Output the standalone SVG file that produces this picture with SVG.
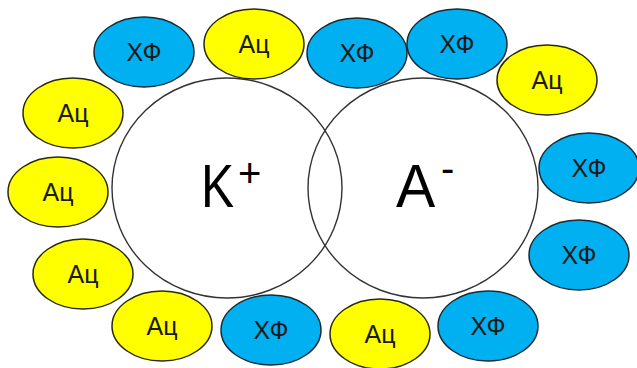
<svg xmlns="http://www.w3.org/2000/svg" width="637" height="368" viewBox="0 0 637 368">
<style>
.big{fill:none;stroke:#333;stroke-width:1.4}
.b{fill:#00B0F0;stroke:#1a2a33;stroke-width:1.5}
.y{fill:#FFFF00;stroke:#2a2a10;stroke-width:1.5}
.t{font-family:"Liberation Sans",Arial,sans-serif;font-size:25px;fill:#1a1a1a;text-anchor:middle}
.ion{font-family:"Liberation Sans",Arial,sans-serif;fill:#000}
</style>
<rect width="637" height="368" fill="#fff"/>
<g id="cation">
<ellipse class="big" cx="227" cy="188" rx="115" ry="110"/>
<text class="ion" transform="translate(201,207) scale(0.8,1)" font-size="62">K</text>
<text class="ion" x="238" y="187" font-size="40">+</text>
</g>
<g id="anion">
<ellipse class="big" cx="423" cy="188" rx="115" ry="110"/>
<text class="ion" transform="translate(396,207) scale(0.95,1)" font-size="62">A</text>
<text class="ion" x="441" y="182" font-size="40">-</text>
</g>
<g id="n1"><ellipse class="b" cx="144" cy="52" rx="50" ry="35"/><text class="t" x="144" y="61">ХФ</text></g>
<g id="n2"><ellipse class="y" cx="254" cy="44" rx="50" ry="35"/><text class="t" x="254" y="53">Ац</text></g>
<g id="n3"><ellipse class="b" cx="357" cy="53" rx="50" ry="35"/><text class="t" x="357" y="62">ХФ</text></g>
<g id="n4"><ellipse class="b" cx="457" cy="44" rx="50" ry="35"/><text class="t" x="457" y="53">ХФ</text></g>
<g id="n5"><ellipse class="y" cx="547" cy="80" rx="50" ry="35"/><text class="t" x="547" y="89">Ац</text></g>
<g id="n6"><ellipse class="b" cx="589" cy="168" rx="50" ry="35"/><text class="t" x="589" y="177">ХФ</text></g>
<g id="n7"><ellipse class="b" cx="579" cy="255" rx="50" ry="35"/><text class="t" x="579" y="264">ХФ</text></g>
<g id="n8"><ellipse class="b" cx="488" cy="326" rx="50" ry="35"/><text class="t" x="488" y="335">ХФ</text></g>
<g id="n9"><ellipse class="y" cx="380" cy="334" rx="50" ry="35"/><text class="t" x="380" y="343">Ац</text></g>
<g id="n10"><ellipse class="b" cx="271" cy="330" rx="50" ry="35"/><text class="t" x="271" y="339">ХФ</text></g>
<g id="n11"><ellipse class="y" cx="162" cy="326" rx="50" ry="35"/><text class="t" x="162" y="335">Ац</text></g>
<g id="n12"><ellipse class="y" cx="83" cy="274" rx="50" ry="35"/><text class="t" x="83" y="283">Ац</text></g>
<g id="n13"><ellipse class="y" cx="58" cy="192" rx="50" ry="35"/><text class="t" x="58" y="201">Ац</text></g>
<g id="n14"><ellipse class="y" cx="73" cy="113" rx="50" ry="35"/><text class="t" x="73" y="122">Ац</text></g>
<g id="connectors"></g>
</svg>
